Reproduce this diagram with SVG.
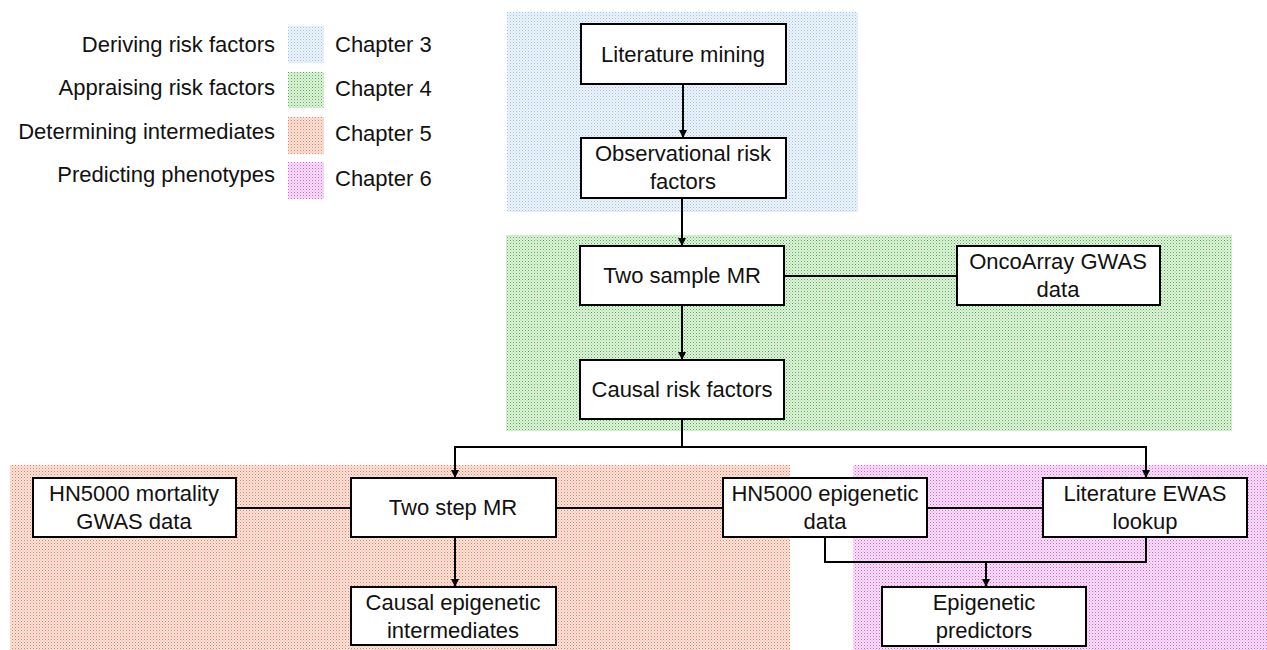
<svg xmlns="http://www.w3.org/2000/svg" width="1267" height="650" viewBox="0 0 1267 650">
<style>
text{font-family:"Liberation Sans",Arial,sans-serif;font-size:22px;fill:#111}
.c{text-anchor:middle}
.r{text-anchor:end}
.box{fill:#fff;stroke:#000;stroke-width:2}
.ln{fill:none;stroke:#000;stroke-width:2}
</style>
<defs>
<pattern id="pB" width="3" height="3" patternUnits="userSpaceOnUse"><rect width="3" height="3" fill="#eef4fb"/><rect width="1" height="1" fill="#9dc0e8"/><rect x="1.5" y="1.5" width="1" height="1" fill="#b8d2ef"/></pattern>
<pattern id="pG" width="3" height="3" patternUnits="userSpaceOnUse"><rect width="3" height="3" fill="#e3f3df"/><rect width="1" height="1" fill="#4fb04f"/><rect x="1.5" y="1.5" width="1" height="1" fill="#7ccb79"/></pattern>
<pattern id="pR" width="3" height="3" patternUnits="userSpaceOnUse"><rect width="3" height="3" fill="#fbe6dd"/><rect width="1" height="1" fill="#ef7a5c"/><rect x="1.5" y="1.5" width="1" height="1" fill="#f39a80"/></pattern>
<pattern id="pM" width="3" height="3" patternUnits="userSpaceOnUse"><rect width="3" height="3" fill="#f9e3f9"/><rect width="1" height="1" fill="#dc5ee0"/><rect x="1.5" y="1.5" width="1" height="1" fill="#e68ae8"/></pattern>
<marker id="ah" viewBox="0 0 10 10" refX="10" refY="5" markerWidth="8" markerHeight="8" markerUnits="userSpaceOnUse" orient="auto"><path d="M0,0 L10,5 L0,10 z" fill="#000"/></marker>
</defs>

<g id="regions">
<rect x="507" y="12" width="351" height="200" fill="url(#pB)"/>
<rect x="506" y="235" width="726" height="196" fill="url(#pG)"/>
<rect x="10" y="465" width="780" height="185" fill="url(#pR)"/>
<rect x="853" y="465" width="414" height="185" fill="url(#pM)"/>
</g>

<g id="legend">
<text class="r" x="275" y="52">Deriving risk factors</text>
<text class="r" x="275" y="95">Appraising risk factors</text>
<text class="r" x="275" y="139">Determining intermediates</text>
<text class="r" x="275" y="182">Predicting phenotypes</text>
<rect x="288" y="26" width="36" height="37" fill="url(#pB)"/>
<rect x="288" y="72" width="36" height="36" fill="url(#pG)"/>
<rect x="288" y="117" width="36" height="37" fill="url(#pR)"/>
<rect x="288" y="162" width="36" height="37" fill="url(#pM)"/>
<text x="335" y="52">Chapter 3</text>
<text x="335" y="96">Chapter 4</text>
<text x="335" y="141">Chapter 5</text>
<text x="335" y="186">Chapter 6</text>
</g>

<g id="connectors">
<line class="ln" x1="683" y1="84" x2="683" y2="138" marker-end="url(#ah)"/>
<line class="ln" x1="682" y1="198" x2="682" y2="246" marker-end="url(#ah)"/>
<line class="ln" x1="784" y1="276" x2="957" y2="276"/>
<line class="ln" x1="682" y1="305" x2="682" y2="360" marker-end="url(#ah)"/>
<path class="ln" d="M682,419 V447"/>
<path class="ln" d="M455,447 H1146"/>
<line class="ln" x1="455" y1="446" x2="455" y2="478" marker-end="url(#ah)"/>
<line class="ln" x1="1146" y1="446" x2="1146" y2="478" marker-end="url(#ah)"/>
<line class="ln" x1="236" y1="508" x2="351" y2="508"/>
<line class="ln" x1="556" y1="508" x2="723" y2="508"/>
<line class="ln" x1="927" y1="508" x2="1043" y2="508"/>
<line class="ln" x1="455" y1="537" x2="455" y2="587" marker-end="url(#ah)"/>
<path class="ln" d="M825,537 V562 H1146 V537"/>
<line class="ln" x1="986" y1="561" x2="986" y2="587" marker-end="url(#ah)"/>
</g>

<g id="n-literature-mining">
<rect class="box" x="581" y="24" width="205" height="60"/>
<text class="c" x="683" y="62">Literature mining</text>
</g>
<g id="n-observational">
<rect class="box" x="581" y="138" width="205" height="60"/>
<text class="c" x="683" y="161">Observational risk</text>
<text class="c" x="683" y="189">factors</text>
</g>
<g id="n-two-sample-mr">
<rect class="box" x="580" y="246" width="204" height="59"/>
<text class="c" x="682" y="283">Two sample MR</text>
</g>
<g id="n-oncoarray">
<rect class="box" x="957" y="246" width="203" height="59"/>
<text class="c" x="1058" y="269">OncoArray GWAS</text>
<text class="c" x="1058" y="297">data</text>
</g>
<g id="n-causal-risk">
<rect class="box" x="580" y="360" width="204" height="59"/>
<text class="c" x="682" y="397">Causal risk factors</text>
</g>
<g id="n-hn5000-mortality">
<rect class="box" x="33" y="478" width="203" height="59"/>
<text class="c" x="134" y="501">HN5000 mortality</text>
<text class="c" x="134" y="529">GWAS data</text>
</g>
<g id="n-two-step-mr">
<rect class="box" x="351" y="478" width="205" height="59"/>
<text class="c" x="453" y="515">Two step MR</text>
</g>
<g id="n-hn5000-epigenetic">
<rect class="box" x="723" y="478" width="204" height="59"/>
<text class="c" x="825" y="501">HN5000 epigenetic</text>
<text class="c" x="825" y="529">data</text>
</g>
<g id="n-literature-ewas">
<rect class="box" x="1043" y="478" width="204" height="59"/>
<text class="c" x="1145" y="501">Literature EWAS</text>
<text class="c" x="1145" y="529">lookup</text>
</g>
<g id="n-causal-epigenetic">
<rect class="box" x="351" y="587" width="205" height="58"/>
<text class="c" x="453" y="610">Causal epigenetic</text>
<text class="c" x="453" y="638">intermediates</text>
</g>
<g id="n-epigenetic-predictors">
<rect class="box" x="882" y="587" width="204" height="59"/>
<text class="c" x="984" y="610">Epigenetic</text>
<text class="c" x="984" y="638">predictors</text>
</g>
</svg>
